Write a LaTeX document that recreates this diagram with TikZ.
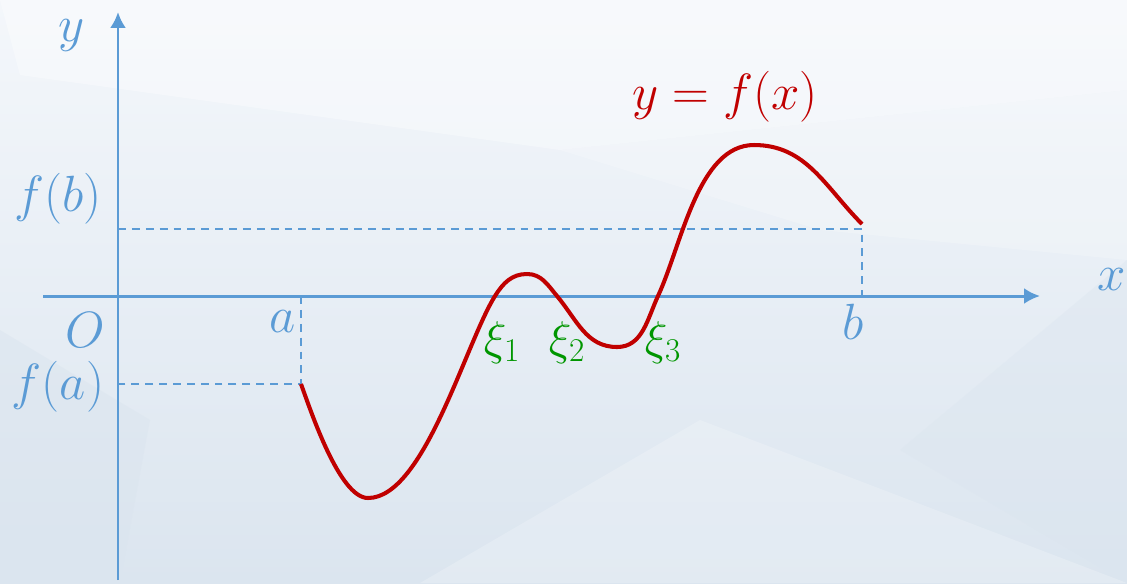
\RequirePackage{fix-cm}
\documentclass[tikz,border=0pt]{standalone}
\usepackage{amsmath}
\usetikzlibrary{arrows.meta, positioning, calc}
\definecolor{axisblue}{RGB}{91, 155, 213}
\definecolor{curvered}{RGB}{192, 0, 0}
\definecolor{rootgreen}{RGB}{0, 150, 0}
\definecolor{bgtop}{RGB}{244, 247, 251}
\definecolor{bgbot}{RGB}{219, 229, 239}

\begin{document}
\begin{tikzpicture}[x=0.02cm, y=-0.02cm,
    axis/.style={axisblue, line width=1.7pt, -{Latex[length=9pt, width=9pt]}},
    guide/.style={axisblue, line width=1.2pt, dash pattern=on 4.5pt off 3.4pt},
    curve/.style={curvered, line width=2.3pt},
    lbl/.style={text=axisblue, inner sep=1pt, font=\fontsize{29}{34}\selectfont},
    rootlbl/.style={text=rootgreen, font=\fontsize{27}{32}\selectfont}]
    \useasboundingbox (0,0) rectangle (1127,583);

    % Background with faint facets
    \shade[top color=bgtop, bottom color=bgbot] (0,0) rectangle (1127,583);
    \fill[white, opacity=0.35] (0,0) -- (1127,0) -- (1127,90) -- (560,150) -- (20,75) -- cycle;
    \fill[white, opacity=0.2] (560,150) -- (1127,90) -- (1127,260) -- (820,230) -- cycle;
    \fill[bgbot, opacity=0.5] (0,330) -- (150,420) -- (120,583) -- (0,583) -- cycle;
    \fill[white, opacity=0.2] (420,583) -- (700,420) -- (1127,583) -- cycle;
    \fill[bgbot, opacity=0.4] (1127,260) -- (1127,583) -- (900,450) -- cycle;

    % Axes
    \coordinate (origin) at (118,296);
    \draw[axis] (118,580) -- (118,12);
    \draw[axis] (43,296) -- (1040,296);
    \node[lbl] (ylab) at (72,35) {$y$};
    \node[lbl] (xlab) at (1112,280) {$x$};
    \node[lbl] (olab) at (85,330) {$O$};

    % End points a and b
    \coordinate (A) at (301,384);
    \coordinate (Ax) at (301,296);
    \coordinate (Ay) at (118,384);
    \coordinate (B) at (862,229);
    \coordinate (Bx) at (862,296);
    \coordinate (By) at (118,229);
    \draw[guide] (Ax) -- (A) -- (Ay);
    \draw[guide] (By) -- (B) -- (Bx);
    \node[lbl] (alab) at (283,322) {$a$};
    \node[lbl] (blab) at (853,322) {$b$};
    \node[lbl] (falab) at (58,387) {$f(a)$};
    \node[lbl] (fblab) at (58,199) {$f(b)$};

    % The curve
    \draw[curve] (A) to[out=-70, in=180, looseness=0.55] (368,498)
        to[out=0, in=238, looseness=0.6] (495,296)
        to[out=58, in=180] (527,274)
        to[out=0, in=130] (557,296)
        to[out=-50, in=180] (617,347)
        to[out=0, in=245] (658,296)
        to[out=65, in=180, looseness=0.8] (754,145)
        to[out=0, in=135] (862,224);
    \node[text=curvered, font=\fontsize{29}{34}\selectfont] (flab) at (725,97) {$y=f(x)$};

    % Roots
    \foreach \k/\px in {1/502, 2/567, 3/663} {
        \node[rootlbl] (root\k) at (\px,343) {$\xi_{\k}$};
    }
\end{tikzpicture}
\end{document}
